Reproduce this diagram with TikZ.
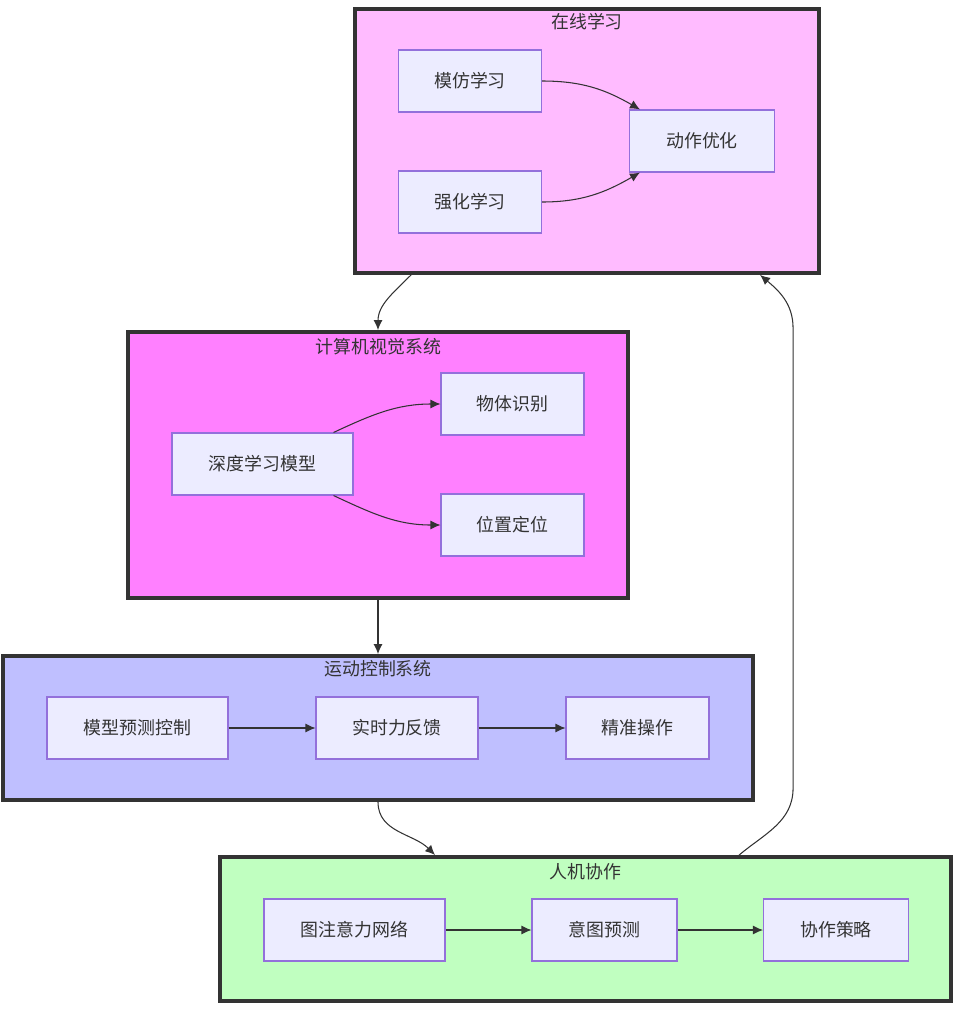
\documentclass[tikz,border=0pt]{standalone}
\usepackage{fontspec}
\setmainfont{Noto Sans CJK SC}
\usepackage{xcolor}
\usepackage{tikz}
\usetikzlibrary{positioning, arrows.meta}

\definecolor{nodefill}{HTML}{ECECFF}
\definecolor{nodeline}{HTML}{9370DB}
\definecolor{darkline}{HTML}{333333}
\definecolor{onlinefill}{HTML}{FFBBFF}
\definecolor{visionfill}{HTML}{FF80FF}
\definecolor{motionfill}{HTML}{BFBFFF}
\definecolor{hrifill}{HTML}{C0FFC0}

\begin{document}
\begin{tikzpicture}[
    box/.style={draw=nodeline, fill=nodefill, line width=0.6pt,
                minimum width=2.86cm, minimum height=1.24cm,
                text=darkline, font=\fontsize{10.2}{12}\selectfont},
    cluster/.style={draw=darkline, line width=2.2pt, inner sep=0pt},
    title/.style={text=darkline, font=\fontsize{10.2}{12}\selectfont},
    arrow/.style={->, >={Latex[length=2mm, width=1.8mm]}, draw=darkline, line width=0.6pt}
  ]
  \useasboundingbox (0,0) rectangle (19.28,-20.2);
  % Clusters
  \node[cluster, fill=onlinefill, minimum width=9.28cm, minimum height=5.28cm] (online) at (11.74,-2.82) {};
  \node[cluster, fill=visionfill, minimum width=10.0cm, minimum height=5.32cm] (vision) at (7.56,-9.3) {};
  \node[cluster, fill=motionfill, minimum width=15.0cm, minimum height=2.88cm] (motion) at (7.56,-14.56) {};
  \node[cluster, fill=hrifill, minimum width=14.62cm, minimum height=2.88cm] (hri) at (11.71,-18.58) {};
  \node[title] (onlineT) at (11.74,-0.44) {在线学习};
  \node[title] (visionT) at (7.57,-6.94) {计算机视觉系统};
  \node[title] (motionT) at (7.56,-13.38) {运动控制系统};
  \node[title] (hriT) at (11.71,-17.44) {人机协作};
  % Boxes
  \node[box] (imit) at (9.4,-1.62) {模仿学习};
  \node[box] (rl) at (9.4,-4.04) {强化学习};
  \node[box, minimum width=2.9cm] (opt) at (14.04,-2.82) {动作优化};
  \node[box, minimum width=3.62cm] (deep) at (5.25,-9.28) {深度学习模型};
  \node[box] (obj) at (10.25,-8.08) {物体识别};
  \node[box] (loc) at (10.25,-10.5) {位置定位};
  \node[box, minimum width=3.62cm] (mpc) at (2.75,-14.56) {模型预测控制};
  \node[box, minimum width=3.24cm] (force) at (7.94,-14.56) {实时力反馈};
  \node[box] (precise) at (12.75,-14.56) {精准操作};
  \node[box, minimum width=3.62cm] (gat) at (7.09,-18.6) {图注意力网络};
  \node[box, minimum width=2.9cm] (intent) at (12.09,-18.6) {意图预测};
  \node[box, minimum width=2.9cm] (coop) at (16.72,-18.6) {协作策略};
  % Arrows inside clusters
  \draw[arrow] (imit.east) to[out=0, in=150] ([xshift=0.22cm]opt.north west);
  \draw[arrow] (rl.east) to[out=0, in=210] ([xshift=0.22cm]opt.south west);
  \draw[arrow] ([xshift=-0.4cm]deep.north east) to[out=25, in=180] (obj.west);
  \draw[arrow] ([xshift=-0.4cm]deep.south east) to[out=-25, in=180] (loc.west);
  \draw[arrow] (mpc) -- (force);
  \draw[arrow] (force) -- (precise);
  \draw[arrow] (gat) -- (intent);
  \draw[arrow] (intent) -- (coop);
  % Arrows between clusters
  \draw[arrow] ([xshift=1.16cm]online.south west) to[out=225, in=90] (vision.north);
  \draw[arrow] (vision.south) -- (motion.north);
  \draw[arrow] (motion.south) to[out=-90, in=135] ([xshift=4.34cm]hri.north west);
  \draw[arrow] ([xshift=10.42cm]hri.north west) to[out=40, in=-90] ++(1.08,1.34)
               -- ++(0,9.2) to[out=90, in=-40] ([xshift=8.14cm]online.south west);
\end{tikzpicture}
\end{document}
